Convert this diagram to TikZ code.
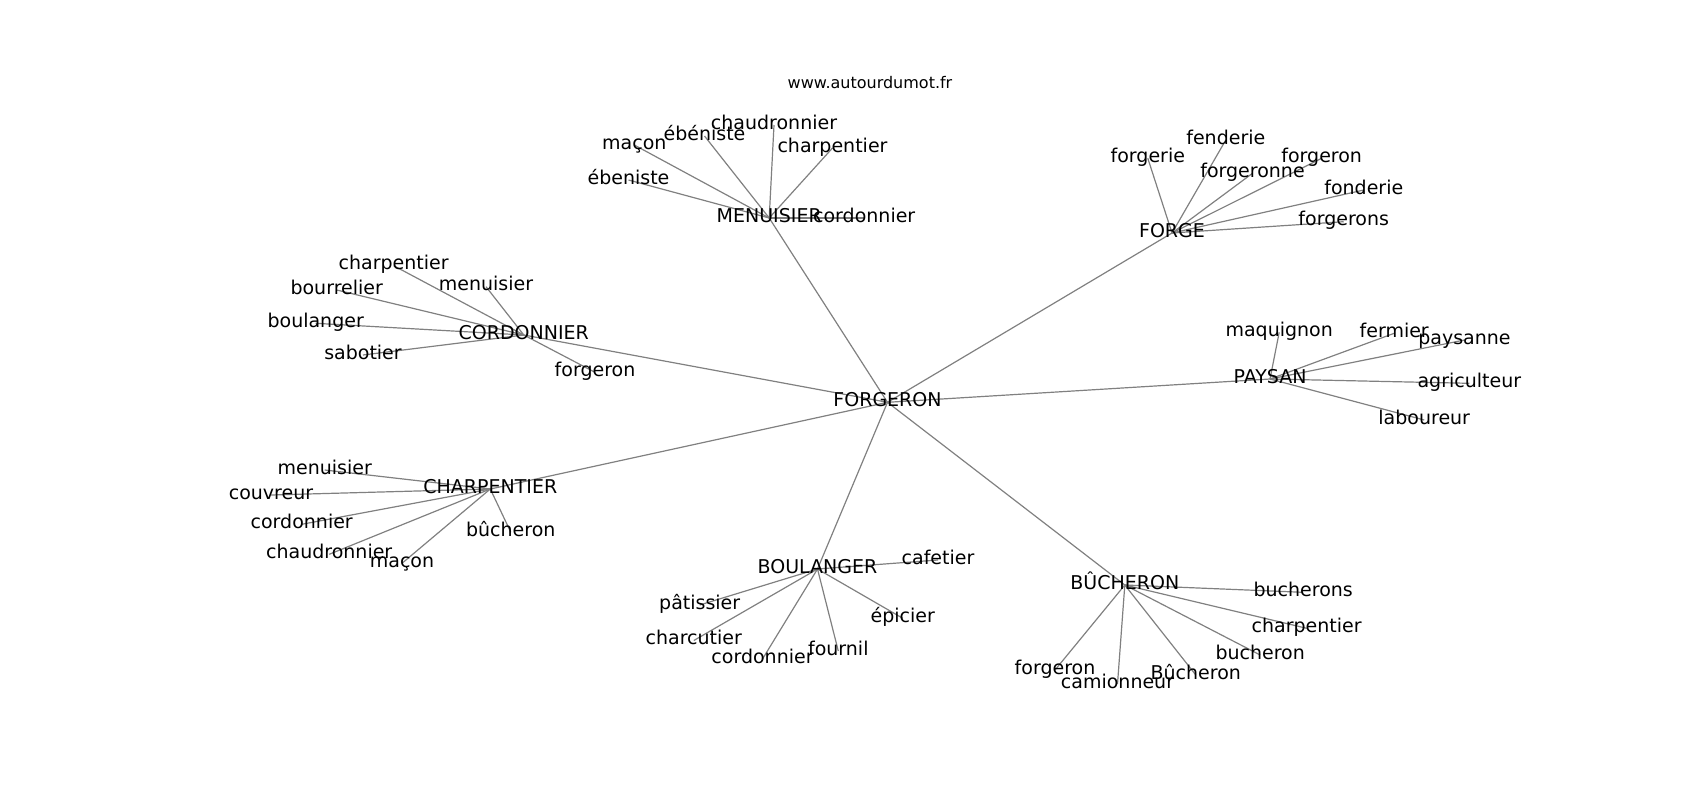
\documentclass[tikz,border=0pt]{standalone}
\usepackage{xcolor}
\usepackage{fontspec}
\setmainfont{DejaVu Sans}
\usetikzlibrary{backgrounds}

\begin{document}
\begin{tikzpicture}[x=1pt, y=-1pt,
  word/.style={inner sep=0pt, text=black, font=\fontsize{19}{23}\selectfont, text height=13.6pt, text depth=5.4pt},
  link/.style={draw=gray, line width=1.2pt}]
\useasboundingbox (0,0) rectangle (1700,800);

\node (site) [inner sep=0pt, anchor=base, font=\fontsize{16}{19}\selectfont] at (870,88.3) {www.autourdumot.fr};

% hubs
\node (forgeron) [word] at (887.5,402.3) {FORGERON};
\node (menuisier) [word] at (769.2,218) {MENUISIER};
\node (forge) [word] at (1172,233) {FORGE};
\node (cordonnier) [word] at (523.8,335) {CORDONNIER};
\node (paysan) [word] at (1270,379) {PAYSAN};
\node (charpentier) [word] at (490.3,489) {CHARPENTIER};
\node (boulanger) [word] at (817.5,569) {BOULANGER};
\node (bucheron) [word] at (1124.8,585) {BÛCHERON};

% around MENUISIER
\node (m-ebeniste) [word] at (628.5,180) {ébeniste};
\node (m-macon) [word] at (634.3,145) {maçon};
\node (m-ebeniste2) [word] at (704.5,136) {ébéniste};
\node (m-chaudronnier) [word] at (774,125) {chaudronnier};
\node (m-charpentier) [word] at (832.5,148) {charpentier};
\node (m-cordonnier) [word] at (864.2,218) {cordonnier};

% around FORGE
\node (f-forgerie) [word] at (1147.8,158.3) {forgerie};
\node (f-fenderie) [word] at (1225.8,140) {fenderie};
\node (f-forgeronne) [word] at (1252.5,173.3) {forgeronne};
\node (f-forgeron) [word] at (1321.7,158.3) {forgeron};
\node (f-fonderie) [word] at (1363.8,190) {fonderie};
\node (f-forgerons) [word] at (1343.7,221.7) {forgerons};

% around CORDONNIER
\node (c-charpentier) [word] at (393.7,265.7) {charpentier};
\node (c-menuisier) [word] at (486,286.7) {menuisier};
\node (c-bourrelier) [word] at (336.7,290) {bourrelier};
\node (c-boulanger) [word] at (315.7,323.3) {boulanger};
\node (c-sabotier) [word] at (363,355) {sabotier};
\node (c-forgeron) [word] at (595,372.3) {forgeron};

% around PAYSAN
\node (p-maquignon) [word] at (1279.2,332.3) {maquignon};
\node (p-fermier) [word] at (1394.2,333.3) {fermier};
\node (p-paysanne) [word] at (1464.5,340) {paysanne};
\node (p-agriculteur) [word] at (1469.3,383.3) {agriculteur};
\node (p-laboureur) [word] at (1424.2,420) {laboureur};

% around CHARPENTIER
\node (ch-menuisier) [word] at (324.7,470) {menuisier};
\node (ch-couvreur) [word] at (271,495) {couvreur};
\node (ch-cordonnier) [word] at (301.7,524.3) {cordonnier};
\node (ch-chaudronnier) [word] at (329.2,554.3) {chaudronnier};
\node (ch-macon) [word] at (402,563.3) {maçon};
\node (ch-bucheron) [word] at (510.8,532.3) {bûcheron};

% around BOULANGER
\node (b-cafetier) [word] at (938,560) {cafetier};
\node (b-patissier) [word] at (699.7,605) {pâtissier};
\node (b-charcutier) [word] at (693.8,640.5) {charcutier};
\node (b-cordonnier) [word] at (762.5,659) {cordonnier};
\node (b-fournil) [word] at (838.3,651) {fournil};
\node (b-epicier) [word] at (902.8,618.3) {épicier};

% around BÛCHERON
\node (bu-bucherons) [word] at (1303.2,592.3) {bucherons};
\node (bu-charpentier) [word] at (1306.7,628.3) {charpentier};
\node (bu-bucheron) [word] at (1260.2,655) {bucheron};
\node (bu-Bucheron) [word] at (1195.8,675) {Bûcheron};
\node (bu-camionneur) [word] at (1117.5,684) {camionneur};
\node (bu-forgeron) [word] at (1055,670) {forgeron};

\begin{scope}[on background layer]
\draw[link] (forgeron.center) -- (menuisier.center);
\draw[link] (forgeron.center) -- (forge.center);
\draw[link] (forgeron.center) -- (cordonnier.center);
\draw[link] (forgeron.center) -- (paysan.center);
\draw[link] (forgeron.center) -- (charpentier.center);
\draw[link] (forgeron.center) -- (boulanger.center);
\draw[link] (forgeron.center) -- (bucheron.center);

\draw[link] (menuisier.center) -- (m-ebeniste.center);
\draw[link] (menuisier.center) -- (m-macon.center);
\draw[link] (menuisier.center) -- (m-ebeniste2.center);
\draw[link] (menuisier.center) -- (m-chaudronnier.center);
\draw[link] (menuisier.center) -- (m-charpentier.center);
\draw[link] (menuisier.center) -- (m-cordonnier.center);

\draw[link] (forge.center) -- (f-forgerie.center);
\draw[link] (forge.center) -- (f-fenderie.center);
\draw[link] (forge.center) -- (f-forgeronne.center);
\draw[link] (forge.center) -- (f-forgeron.center);
\draw[link] (forge.center) -- (f-fonderie.center);
\draw[link] (forge.center) -- (f-forgerons.center);

\draw[link] (cordonnier.center) -- (c-charpentier.center);
\draw[link] (cordonnier.center) -- (c-menuisier.center);
\draw[link] (cordonnier.center) -- (c-bourrelier.center);
\draw[link] (cordonnier.center) -- (c-boulanger.center);
\draw[link] (cordonnier.center) -- (c-sabotier.center);
\draw[link] (cordonnier.center) -- (c-forgeron.center);

\draw[link] (paysan.center) -- (p-maquignon.center);
\draw[link] (paysan.center) -- (p-fermier.center);
\draw[link] (paysan.center) -- (p-paysanne.center);
\draw[link] (paysan.center) -- (p-agriculteur.center);
\draw[link] (paysan.center) -- (p-laboureur.center);

\draw[link] (charpentier.center) -- (ch-menuisier.center);
\draw[link] (charpentier.center) -- (ch-couvreur.center);
\draw[link] (charpentier.center) -- (ch-cordonnier.center);
\draw[link] (charpentier.center) -- (ch-chaudronnier.center);
\draw[link] (charpentier.center) -- (ch-macon.center);
\draw[link] (charpentier.center) -- (ch-bucheron.center);

\draw[link] (boulanger.center) -- (b-cafetier.center);
\draw[link] (boulanger.center) -- (b-patissier.center);
\draw[link] (boulanger.center) -- (b-charcutier.center);
\draw[link] (boulanger.center) -- (b-cordonnier.center);
\draw[link] (boulanger.center) -- (b-fournil.center);
\draw[link] (boulanger.center) -- (b-epicier.center);

\draw[link] (bucheron.center) -- (bu-bucherons.center);
\draw[link] (bucheron.center) -- (bu-charpentier.center);
\draw[link] (bucheron.center) -- (bu-bucheron.center);
\draw[link] (bucheron.center) -- (bu-Bucheron.center);
\draw[link] (bucheron.center) -- (bu-camionneur.center);
\draw[link] (bucheron.center) -- (bu-forgeron.center);
\end{scope}
\end{tikzpicture}
\end{document}
